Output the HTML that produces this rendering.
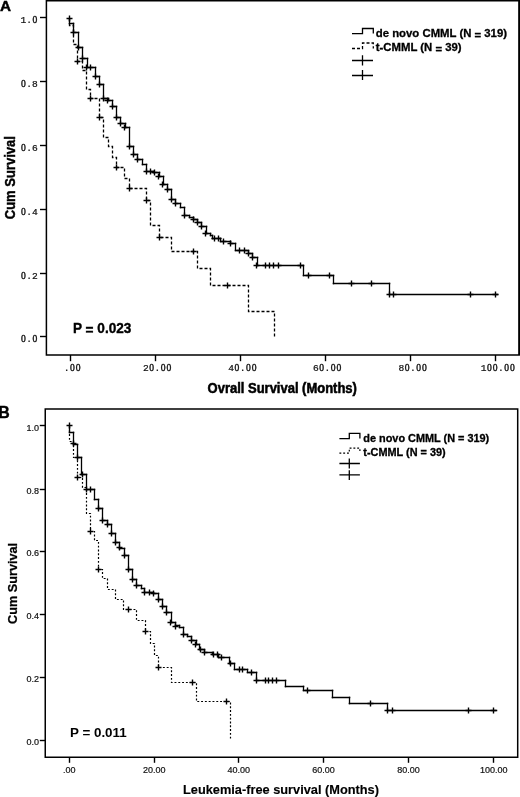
<!DOCTYPE html>
<html><head><meta charset="utf-8"><title>Kaplan-Meier curves</title>
<style>html,body{margin:0;padding:0;background:#fff;width:520px;height:797px;overflow:hidden}svg{display:block;will-change:transform}</style>
</head><body>
<svg width="520" height="797" viewBox="0 0 520 797">
<style>
.ax{stroke:#000;stroke-width:1.4;fill:none}
.fr{stroke:#000;stroke-width:1.5;fill:none}
.cv{stroke:#000;stroke-width:1.3;fill:none}
.cvh{stroke:#000;stroke-width:1.55;fill:none;stroke-linecap:square}
.cvv{stroke:#000;stroke-width:1.3;fill:none;stroke-linecap:square}
.pl{stroke:#000;stroke-width:1.4;fill:none}
.dA{stroke:#000;stroke-width:1.3;fill:none;stroke-dasharray:3 2}
.dB{stroke:#000;stroke-width:1.2;fill:none;stroke-dasharray:1.9 1.9}
text{fill:#111}
.mono{font-family:"Liberation Mono",monospace;font-size:9.6px;stroke:#111;stroke-width:0.22}
.ser{font-family:"Liberation Serif",serif;font-size:9.6px;stroke:#111;stroke-width:0.35}
.sans9{font-family:"Liberation Sans",sans-serif;font-size:9px;stroke:#111;stroke-width:0.2}
.b{font-family:"Liberation Sans",sans-serif;font-weight:bold;fill:#000}
</style>
<rect width="520" height="797" fill="#fff"/>
<!-- Plot A -->
<text transform="translate(0.1 10.7) scale(1 1.0)" class="b" font-size="15.3" text-anchor="start" stroke="#000" stroke-width="0.45">A</text>
<path d="M46.4,0.75H519.2V355.1H46.4Z" class="fr"/><path d="M519.2,0V355.1" stroke="#000" stroke-width="1.7"/>
<path d="M40,17.5H46.5" class="ax"/><text x="23.35" y="22.90" class="mono" text-anchor="middle">1</text><text x="29.13" y="22.90" class="mono" text-anchor="middle">.</text><text x="34.91" y="22.90" class="ser" text-anchor="middle">0</text><path d="M40,81.5H46.5" class="ax"/><text x="23.35" y="86.90" class="ser" text-anchor="middle">0</text><text x="29.13" y="86.90" class="mono" text-anchor="middle">.</text><text x="34.91" y="86.90" class="mono" text-anchor="middle">8</text><path d="M40,145.5H46.5" class="ax"/><text x="23.35" y="150.90" class="ser" text-anchor="middle">0</text><text x="29.13" y="150.90" class="mono" text-anchor="middle">.</text><text x="34.91" y="150.90" class="mono" text-anchor="middle">6</text><path d="M40,209.5H46.5" class="ax"/><text x="23.35" y="214.90" class="ser" text-anchor="middle">0</text><text x="29.13" y="214.90" class="mono" text-anchor="middle">.</text><text x="34.91" y="214.90" class="mono" text-anchor="middle">4</text><path d="M40,273.5H46.5" class="ax"/><text x="23.35" y="278.90" class="ser" text-anchor="middle">0</text><text x="29.13" y="278.90" class="mono" text-anchor="middle">.</text><text x="34.91" y="278.90" class="mono" text-anchor="middle">2</text><path d="M40,336.5H46.5" class="ax"/><text x="23.35" y="342.40" class="ser" text-anchor="middle">0</text><text x="29.13" y="342.40" class="mono" text-anchor="middle">.</text><text x="34.91" y="342.40" class="ser" text-anchor="middle">0</text>
<path d="M70.5,355V361.2" class="ax"/><text x="66.62" y="370.60" class="mono" text-anchor="middle">.</text><text x="72.40" y="370.60" class="ser" text-anchor="middle">0</text><text x="78.18" y="370.60" class="ser" text-anchor="middle">0</text><path d="M155.5,355V361.2" class="ax"/><text x="145.84" y="370.60" class="mono" text-anchor="middle">2</text><text x="151.62" y="370.60" class="ser" text-anchor="middle">0</text><text x="157.40" y="370.60" class="mono" text-anchor="middle">.</text><text x="163.18" y="370.60" class="ser" text-anchor="middle">0</text><text x="168.96" y="370.60" class="ser" text-anchor="middle">0</text><path d="M240.5,355V361.2" class="ax"/><text x="231.14" y="370.60" class="mono" text-anchor="middle">4</text><text x="236.92" y="370.60" class="ser" text-anchor="middle">0</text><text x="242.70" y="370.60" class="mono" text-anchor="middle">.</text><text x="248.48" y="370.60" class="ser" text-anchor="middle">0</text><text x="254.26" y="370.60" class="ser" text-anchor="middle">0</text><path d="M325.5,355V361.2" class="ax"/><text x="315.84" y="370.60" class="mono" text-anchor="middle">6</text><text x="321.62" y="370.60" class="ser" text-anchor="middle">0</text><text x="327.40" y="370.60" class="mono" text-anchor="middle">.</text><text x="333.18" y="370.60" class="ser" text-anchor="middle">0</text><text x="338.96" y="370.60" class="ser" text-anchor="middle">0</text><path d="M410.5,355V361.2" class="ax"/><text x="401.34" y="370.60" class="mono" text-anchor="middle">8</text><text x="407.12" y="370.60" class="ser" text-anchor="middle">0</text><text x="412.90" y="370.60" class="mono" text-anchor="middle">.</text><text x="418.68" y="370.60" class="ser" text-anchor="middle">0</text><text x="424.46" y="370.60" class="ser" text-anchor="middle">0</text><path d="M495.5,355V361.2" class="ax"/><text x="483.55" y="370.60" class="mono" text-anchor="middle">1</text><text x="489.33" y="370.60" class="ser" text-anchor="middle">0</text><text x="495.11" y="370.60" class="ser" text-anchor="middle">0</text><text x="500.89" y="370.60" class="mono" text-anchor="middle">.</text><text x="506.67" y="370.60" class="ser" text-anchor="middle">0</text><text x="512.45" y="370.60" class="ser" text-anchor="middle">0</text>
<text transform="translate(14.6 177.7) rotate(-90) scale(1 1.08)" class="b" font-size="13" text-anchor="middle" stroke="#000" stroke-width="0.4">Cum Survival</text>
<text transform="translate(207.6 392.9) scale(1 1.06)" class="b" font-size="13" text-anchor="start" stroke="#000" stroke-width="0.5">Ovrall Survival (Months)</text>
<text transform="translate(73 333.1) scale(1 1.06)" class="b" font-size="13.6" text-anchor="start" stroke="#000" stroke-width="0.35">P <tspan dy="1.8">=</tspan><tspan dy="-1.8"> 0.023</tspan></text>
<path d="M69.5,18.5 V25.5 H73.5 V44.5 H77.5 V61.5 H82.5 V70.5 H86.5 V89.5 H90.5 V98.5 H99.5 V117.5 H103.5 V137.5 H108.5 V146.5 H112.5 V157.5 H116.5 V167.5 H124.5 V178.5 H129.5 V188.5 H146.5 V200.5 H150.5 V225.5 H159.5 V237.5 H171.5 V251.5 H197.5 V268.5 H210.5 V285.5 H248.5 V311.5 H274.5 V337.5" class="dA"/>
<path d="M74.5,61.5H80.5M77.5,58.5V64.5M87.5,98.5H93.5M90.5,95.5V101.5M96.5,117.5H102.5M99.5,114.5V120.5M113.5,167.5H119.5M116.5,164.5V170.5M126.5,188.5H132.5M129.5,185.5V191.5M143.5,200.5H149.5M146.5,197.5V203.5M156.5,237.5H162.5M159.5,234.5V240.5M190.5,251.5H196.5M193.5,248.5V254.5M224.5,285.5H230.5M227.5,282.5V288.5" class="pl"/>
<path d="M69.5,23.5H73.5M73.5,32.5H78.5M78.5,47.5H82.5M82.5,58.5H87.5M87.5,67.5H95.5M95.5,76.5H99.5M99.5,84.5H103.5M103.5,98.5H108.5M108.5,100.5H112.5M112.5,106.5H116.5M116.5,117.5H120.5M120.5,123.5H125.5M125.5,127.5H129.5M129.5,146.5H133.5M133.5,154.5H137.5M137.5,159.5H142.5M142.5,164.5H146.5M146.5,171.5H153.5M153.5,172.5H159.5M159.5,176.5H163.5M163.5,184.5H167.5M167.5,189.5H171.5M171.5,199.5H175.5M175.5,203.5H180.5M180.5,207.5H184.5M184.5,215.5H189.5M189.5,217.5H193.5M193.5,219.5H197.5M197.5,222.5H201.5M201.5,226.5H206.5M206.5,233.5H210.5M210.5,235.5H212.5M212.5,238.5H220.5M220.5,241.5H230.5M230.5,243.5H235.5M235.5,250.5H248.5M248.5,253.5H252.5M252.5,257.5H257.5M257.5,265.5H303.5M303.5,275.5H333.5M333.5,283.5H389.5M389.5,294.5H497.5" class="cvh"/><path d="M69.5,18.5V23.5M73.5,23.5V32.5M78.5,32.5V47.5M82.5,47.5V58.5M87.5,58.5V67.5M95.5,67.5V76.5M99.5,76.5V84.5M103.5,84.5V98.5M108.5,98.5V100.5M112.5,100.5V106.5M116.5,106.5V117.5M120.5,117.5V123.5M125.5,123.5V127.5M129.5,127.5V146.5M133.5,146.5V154.5M137.5,154.5V159.5M142.5,159.5V164.5M146.5,164.5V171.5M153.5,171.5V172.5M159.5,172.5V176.5M163.5,176.5V184.5M167.5,184.5V189.5M171.5,189.5V199.5M175.5,199.5V203.5M180.5,203.5V207.5M184.5,207.5V215.5M189.5,215.5V217.5M193.5,217.5V219.5M197.5,219.5V222.5M201.5,222.5V226.5M206.5,226.5V233.5M210.5,233.5V235.5M212.5,235.5V238.5M220.5,238.5V241.5M230.5,241.5V243.5M235.5,243.5V250.5M248.5,250.5V253.5M252.5,253.5V257.5M257.5,257.5V265.5M303.5,265.5V275.5M333.5,275.5V283.5M389.5,283.5V294.5" class="cvv"/>
<path d="M66.5,18.5H72.5M69.5,15.5V21.5M70.5,32.5H76.5M73.5,29.5V35.5M75.5,47.5H81.5M78.5,44.5V50.5M79.5,58.5H85.5M82.5,55.5V61.5M83.5,67.5H89.5M86.5,64.5V70.5M87.5,67.5H93.5M90.5,64.5V70.5M92.5,76.5H98.5M95.5,73.5V79.5M96.5,84.5H102.5M99.5,81.5V87.5M100.5,98.5H106.5M103.5,95.5V101.5M104.5,100.5H110.5M107.5,97.5V103.5M109.5,106.5H115.5M112.5,103.5V109.5M113.5,117.5H119.5M116.5,114.5V120.5M117.5,123.5H123.5M120.5,120.5V126.5M121.5,127.5H127.5M124.5,124.5V130.5M126.5,146.5H132.5M129.5,143.5V149.5M130.5,154.5H136.5M133.5,151.5V157.5M134.5,159.5H140.5M137.5,156.5V162.5M143.5,171.5H149.5M146.5,168.5V174.5M147.5,171.5H153.5M150.5,168.5V174.5M151.5,172.5H157.5M154.5,169.5V175.5M155.5,176.5H161.5M158.5,173.5V179.5M159.5,184.5H165.5M162.5,181.5V187.5M164.5,189.5H170.5M167.5,186.5V192.5M168.5,199.5H174.5M171.5,196.5V202.5M172.5,203.5H178.5M175.5,200.5V206.5M181.5,215.5H187.5M184.5,212.5V218.5M190.5,219.5H196.5M193.5,216.5V222.5M194.5,222.5H200.5M197.5,219.5V225.5M198.5,226.5H204.5M201.5,223.5V229.5M202.5,233.5H208.5M205.5,230.5V236.5M211.5,238.5H217.5M214.5,235.5V241.5M215.5,238.5H221.5M218.5,235.5V241.5M220.5,241.5H226.5M223.5,238.5V244.5M227.5,243.5H233.5M230.5,240.5V246.5M236.5,250.5H242.5M239.5,247.5V253.5M241.5,250.5H247.5M244.5,247.5V253.5M245.5,253.5H251.5M248.5,250.5V256.5M249.5,257.5H255.5M252.5,254.5V260.5M253.5,265.5H259.5M256.5,262.5V268.5M262.5,265.5H268.5M265.5,262.5V268.5M266.5,265.5H272.5M269.5,262.5V268.5M270.5,265.5H276.5M273.5,262.5V268.5M275.5,265.5H281.5M278.5,262.5V268.5M297.5,265.5H303.5M300.5,262.5V268.5M305.5,275.5H311.5M308.5,272.5V278.5M326.5,275.5H332.5M329.5,272.5V278.5M348.5,283.5H354.5M351.5,280.5V286.5M368.5,283.5H374.5M371.5,280.5V286.5M386.5,294.5H392.5M389.5,291.5V297.5M390.5,294.5H396.5M393.5,291.5V297.5M467.5,294.5H473.5M470.5,291.5V297.5M492.5,294.5H498.5M495.5,291.5V297.5" class="pl"/>
<!-- legend A -->
<path d="M352,33.7H362.5V28.5H373.3V33.5" class="cv"/>
<path d="M352,48.5H362.5V43H373.3V48.5" class="dA"/>
<path d="M352,60.5H373M362.5,55.2V65.6" class="cv"/>
<path d="M352,75.5H373M362.5,70V80" class="cv"/>
<text transform="translate(375.8 37.3) scale(1 1.0)" class="b" font-size="11.35" text-anchor="start" stroke="#000" stroke-width="0.3">de novo CMML (N <tspan dy="1.3">=</tspan><tspan dy="-1.3"> 319)</tspan></text>
<text transform="translate(375.8 51.3) scale(1 1.0)" class="b" font-size="11.35" text-anchor="start" stroke="#000" stroke-width="0.3">t-CMML (N <tspan dy="1.3">=</tspan><tspan dy="-1.3"> 39)</tspan></text>

<!-- Plot B -->
<text transform="translate(-1.4 418.3) scale(1 1.04)" class="b" font-size="15.5" text-anchor="start" stroke="#000" stroke-width="0.4">B</text>
<path d="M45.25,408.9H517.7V757.3H45.25Z" class="fr"/>
<path d="M39.8,425.5H45.2" class="ax"/><text x="39" y="430.8" class="sans9" text-anchor="end">1.0</text><path d="M39.8,489.5H45.2" class="ax"/><text x="39" y="493.6" class="sans9" text-anchor="end">0.8</text><path d="M39.8,551.5H45.2" class="ax"/><text x="39" y="556.4" class="sans9" text-anchor="end">0.6</text><path d="M39.8,614.5H45.2" class="ax"/><text x="39" y="619.2" class="sans9" text-anchor="end">0.4</text><path d="M39.8,677.5H45.2" class="ax"/><text x="39" y="682.0" class="sans9" text-anchor="end">0.2</text><path d="M39.8,740.5H45.2" class="ax"/><text x="39" y="744.8" class="sans9" text-anchor="end">0.0</text>
<path d="M69.5,757.3V762.8" class="ax"/><text x="69.2" y="772.6" class="sans9" text-anchor="middle">.00</text><path d="M154.5,757.3V762.8" class="ax"/><text x="154.2" y="772.6" class="sans9" text-anchor="middle">20.00</text><path d="M238.5,757.3V762.8" class="ax"/><text x="238.8" y="772.6" class="sans9" text-anchor="middle">40.00</text><path d="M323.5,757.3V762.8" class="ax"/><text x="323.5" y="772.6" class="sans9" text-anchor="middle">60.00</text><path d="M408.5,757.3V762.8" class="ax"/><text x="408.6" y="772.6" class="sans9" text-anchor="middle">80.00</text><path d="M493.5,757.3V762.8" class="ax"/><text x="493.8" y="772.6" class="sans9" text-anchor="middle">100.00</text>
<text transform="translate(16.6 583.4) rotate(-90) scale(1 1.0)" class="b" font-size="12.7" text-anchor="middle" stroke="#000" stroke-width="0.25">Cum Survival</text>
<text transform="translate(183 794.2) scale(1 1.02)" class="b" font-size="12.8" text-anchor="start" stroke="#000" stroke-width="0.15">Leukemia-free survival (Months)</text>
<text transform="translate(70 737) scale(1 1.0)" class="b" font-size="13.4" text-anchor="start" stroke="#000" stroke-width="0">P = 0.011</text>
<path d="M69.5,426.5 V441.5 H73.5 V457.5 H77.5 V477.5 H82.5 V487.5 H86.5 V513.5 H90.5 V531.5 H94.5 V540.5 H98.5 V569.5 H102.5 V578.5 H107.5 V589.5 H115.5 V599.5 H123.5 V609.5 H136.5 V620.5 H145.5 V631.5 H150.5 V643.5 H154.5 V655.5 H158.5 V667.5 H171.5 V682.5 H196.5 V701.5 H230.5 V739.5" class="dB"/>
<path d="M74.5,477.5H80.5M77.5,474.5V480.5M87.5,531.5H93.5M90.5,528.5V534.5M95.5,569.5H101.5M98.5,566.5V572.5M125.5,609.5H131.5M128.5,606.5V612.5M142.5,631.5H148.5M145.5,628.5V634.5M155.5,667.5H161.5M158.5,664.5V670.5M189.5,682.5H195.5M192.5,679.5V685.5M223.5,701.5H229.5M226.5,698.5V704.5" class="pl"/>
<path d="M69.5,432.5H73.5M73.5,444.5H77.5M77.5,457.5H81.5M81.5,474.5H86.5M86.5,489.5H94.5M94.5,499.5H98.5M98.5,508.5H102.5M102.5,520.5H107.5M107.5,524.5H111.5M111.5,533.5H115.5M115.5,542.5H119.5M119.5,548.5H124.5M124.5,555.5H128.5M128.5,569.5H132.5M132.5,579.5H136.5M136.5,585.5H141.5M141.5,588.5H144.5M144.5,592.5H153.5M153.5,593.5H158.5M158.5,599.5H162.5M162.5,606.5H166.5M166.5,612.5H171.5M171.5,622.5H175.5M175.5,625.5H179.5M179.5,627.5H183.5M183.5,634.5H187.5M187.5,636.5H191.5M191.5,640.5H196.5M196.5,644.5H199.5M199.5,649.5H204.5M204.5,652.5H212.5M212.5,654.5H218.5M218.5,657.5H229.5M229.5,663.5H234.5M234.5,669.5H247.5M247.5,672.5H256.5M256.5,680.5H285.5M285.5,686.5H303.5M303.5,690.5H332.5M332.5,697.5H349.5M349.5,703.5H387.5M387.5,710.5H496.5" class="cvh"/><path d="M69.5,426.5V432.5M73.5,432.5V444.5M77.5,444.5V457.5M81.5,457.5V474.5M86.5,474.5V489.5M94.5,489.5V499.5M98.5,499.5V508.5M102.5,508.5V520.5M107.5,520.5V524.5M111.5,524.5V533.5M115.5,533.5V542.5M119.5,542.5V548.5M124.5,548.5V555.5M128.5,555.5V569.5M132.5,569.5V579.5M136.5,579.5V585.5M141.5,585.5V588.5M144.5,588.5V592.5M153.5,592.5V593.5M158.5,593.5V599.5M162.5,599.5V606.5M166.5,606.5V612.5M171.5,612.5V622.5M175.5,622.5V625.5M179.5,625.5V627.5M183.5,627.5V634.5M187.5,634.5V636.5M191.5,636.5V640.5M196.5,640.5V644.5M199.5,644.5V649.5M204.5,649.5V652.5M212.5,652.5V654.5M218.5,654.5V657.5M229.5,657.5V663.5M234.5,663.5V669.5M247.5,669.5V672.5M256.5,672.5V680.5M285.5,680.5V686.5M303.5,686.5V690.5M332.5,690.5V697.5M349.5,697.5V703.5M387.5,703.5V710.5" class="cvv"/>
<path d="M66.5,425.5H72.5M69.5,422.5V428.5M70.5,443.5H76.5M73.5,440.5V446.5M74.5,457.5H80.5M77.5,454.5V460.5M79.5,474.5H85.5M82.5,471.5V477.5M83.5,489.5H89.5M86.5,486.5V492.5M87.5,489.5H93.5M90.5,486.5V492.5M95.5,508.5H101.5M98.5,505.5V511.5M99.5,520.5H105.5M102.5,517.5V523.5M104.5,524.5H110.5M107.5,521.5V527.5M108.5,533.5H114.5M111.5,530.5V536.5M112.5,542.5H118.5M115.5,539.5V545.5M116.5,547.5H122.5M119.5,544.5V550.5M121.5,555.5H127.5M124.5,552.5V558.5M125.5,569.5H131.5M128.5,566.5V572.5M129.5,579.5H135.5M132.5,576.5V582.5M133.5,585.5H139.5M136.5,582.5V588.5M141.5,592.5H147.5M144.5,589.5V595.5M146.5,592.5H152.5M149.5,589.5V595.5M150.5,593.5H156.5M153.5,590.5V596.5M155.5,599.5H161.5M158.5,596.5V602.5M159.5,606.5H165.5M162.5,603.5V609.5M163.5,612.5H169.5M166.5,609.5V615.5M167.5,622.5H173.5M170.5,619.5V625.5M172.5,626.5H178.5M175.5,623.5V629.5M180.5,634.5H186.5M183.5,631.5V637.5M188.5,640.5H194.5M191.5,637.5V643.5M192.5,644.5H198.5M195.5,641.5V647.5M197.5,649.5H203.5M200.5,646.5V652.5M201.5,652.5H207.5M204.5,649.5V655.5M210.5,654.5H216.5M213.5,651.5V657.5M214.5,654.5H220.5M217.5,651.5V657.5M218.5,657.5H224.5M221.5,654.5V660.5M227.5,663.5H233.5M230.5,660.5V666.5M236.5,669.5H242.5M239.5,666.5V672.5M239.5,669.5H245.5M242.5,666.5V672.5M248.5,672.5H254.5M251.5,669.5V675.5M253.5,680.5H259.5M256.5,677.5V683.5M262.5,680.5H268.5M265.5,677.5V683.5M265.5,680.5H271.5M268.5,677.5V683.5M269.5,680.5H275.5M272.5,677.5V683.5M273.5,680.5H279.5M276.5,677.5V683.5M304.5,690.5H310.5M307.5,687.5V693.5M367.5,703.5H373.5M370.5,700.5V706.5M384.5,710.5H390.5M387.5,707.5V713.5M389.5,710.5H395.5M392.5,707.5V713.5M465.5,710.5H471.5M468.5,707.5V713.5M490.5,710.5H496.5M493.5,707.5V713.5" class="pl"/>
<!-- legend B -->
<path d="M339.4,438.7H349.3V433.4H359.9V438.4" class="cv"/>
<path d="M339.4,453.1H349.3V448.1H359.9V453.1" class="dB"/>
<path d="M339.4,463.5H359.9M349.3,458.6V468.4" class="cv"/>
<path d="M339.4,474.9H359.9M349.3,470.2V480" class="cv"/>
<text transform="translate(363.3 441.6) scale(1 1.06)" class="b" font-size="10.9" text-anchor="start" stroke="#000" stroke-width="0.3">de novo CMML (N = 319)</text>
<text transform="translate(363.3 455.6) scale(1 1.06)" class="b" font-size="10.9" text-anchor="start" stroke="#000" stroke-width="0.3">t-CMML (N = 39)</text>
</svg>
</body></html>
